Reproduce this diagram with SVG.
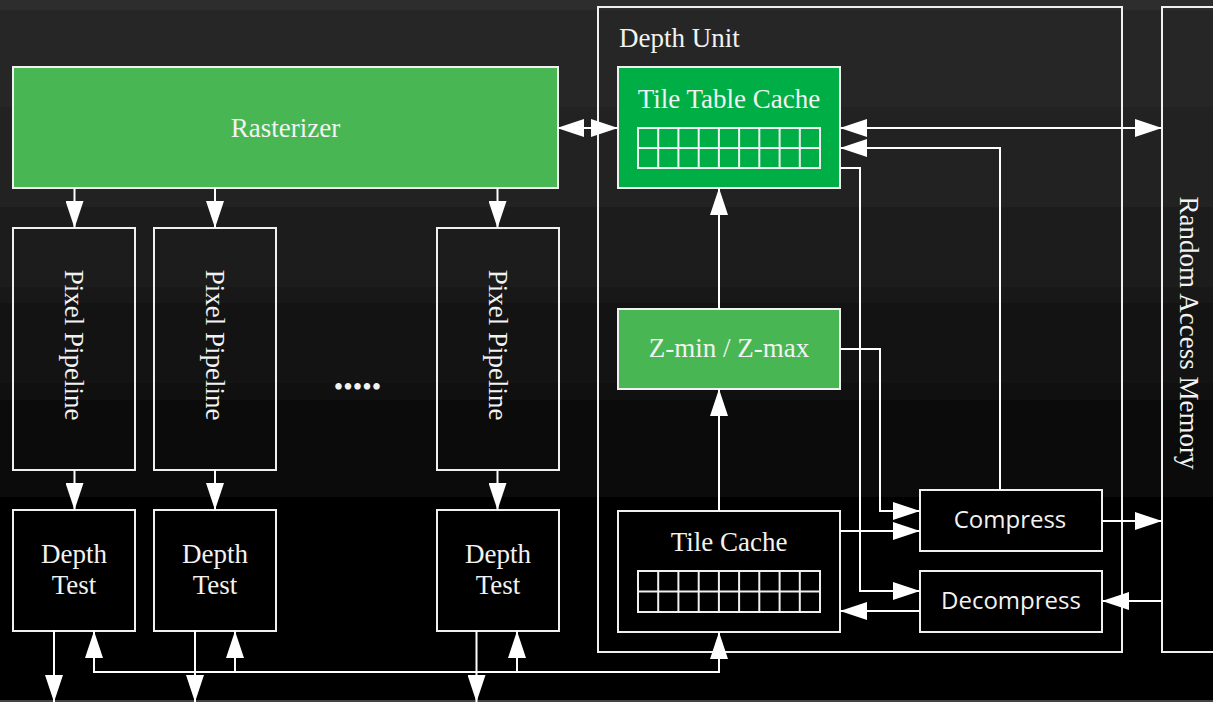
<svg xmlns="http://www.w3.org/2000/svg" width="1213" height="702" viewBox="0 0 1213 702">
<style>
.box{fill:#000;stroke:#f0f0f0;stroke-width:2}
.boxt{fill:none;stroke:#f0f0f0;stroke-width:2}
.green{fill:#48b753;stroke:#f0f0f0;stroke-width:2}
.green2{fill:#00ae46;stroke:#f0f0f0;stroke-width:2}
.grid{fill:none;stroke:#f0f0f0;stroke-width:2}
.t{font-family:"Liberation Serif","Times New Roman",serif;font-size:27px;fill:#f2f2f2;text-anchor:middle}
.s{font-family:"Open Sans","Noto Sans",sans-serif;font-size:24px;fill:#f2f2f2;text-anchor:middle}
.c{fill:none;stroke:#fff;stroke-width:2}
.a{marker-end:url(#ah)}
.b{marker-start:url(#ah);marker-end:url(#ah)}
</style>
<defs>
<marker id="ah" markerUnits="userSpaceOnUse" markerWidth="27" markerHeight="18" refX="27" refY="9" orient="auto-start-reverse" viewBox="0 0 27 18">
<path d="M0,0 L27,9 L0,18 z" fill="#fff"/>
</marker>
</defs>
<g id="background">
<rect x="0" y="0" width="1213" height="702" fill="#000"/>
<rect x="0" y="0" width="1213" height="10" fill="#2d2d2d"/>
<rect x="0" y="10" width="1213" height="97" fill="#262626"/>
<rect x="0" y="107" width="1213" height="100" fill="#222"/>
<rect x="0" y="207" width="1213" height="80" fill="#1c1c1c"/>
<rect x="0" y="287" width="1213" height="16" fill="#181818"/>
<rect x="0" y="303" width="1213" height="80" fill="#131313"/>
<rect x="0" y="383" width="1213" height="17" fill="#101010"/>
<rect x="0" y="400" width="1213" height="97" fill="#0b0b0b"/>
<rect x="0" y="700" width="1213" height="2" fill="#444"/>
</g>
<g id="depth-unit">
<rect class="boxt" x="598" y="7" width="524" height="645"/>
<text class="t" x="619" y="47" style="text-anchor:start">Depth Unit</text>
</g>
<g id="ram">
<rect class="boxt" x="1162" y="7" width="70" height="645"/>
<text class="t" transform="translate(1189,333) rotate(90)" y="9">Random Access Memory</text>
</g>
<g id="rasterizer">
<rect class="green" x="13" y="67" width="545" height="121"/>
<text class="t" x="285.5" y="136.5">Rasterizer</text>
</g>
<g id="pixel-pipeline-1">
<rect class="boxt" x="13" y="228" width="122" height="242"/>
<text class="t" transform="translate(74,345) rotate(90)" y="9">Pixel Pipeline</text>
</g>
<g id="pixel-pipeline-2">
<rect class="boxt" x="154" y="228" width="122" height="242"/>
<text class="t" transform="translate(215,345) rotate(90)" y="9">Pixel Pipeline</text>
</g>
<g id="pixel-pipeline-3">
<rect class="boxt" x="437" y="228" width="122" height="242"/>
<text class="t" transform="translate(498,345) rotate(90)" y="9">Pixel Pipeline</text>
</g>
<g id="ellipsis">
<text class="t" x="357.5" y="396">•••••</text>
</g>
<g id="depth-test-1">
<rect class="box" x="13" y="510" width="122" height="121"/>
<text class="t" x="74" y="563">Depth</text>
<text class="t" x="74" y="594">Test</text>
</g>
<g id="depth-test-2">
<rect class="box" x="154" y="510" width="122" height="121"/>
<text class="t" x="215" y="563">Depth</text>
<text class="t" x="215" y="594">Test</text>
</g>
<g id="depth-test-3">
<rect class="box" x="437" y="510" width="122" height="121"/>
<text class="t" x="498" y="563">Depth</text>
<text class="t" x="498" y="594">Test</text>
</g>
<g id="tile-table-cache">
<rect class="green2" x="618" y="67" width="222" height="121"/>
<text class="t" x="729" y="108">Tile Table Cache</text>
<rect class="grid" x="638" y="128" width="182" height="40"/>
<path class="grid" d="M638,148H820M658.2,128V168M678.4,128V168M698.7,128V168M718.9,128V168M739.1,128V168M759.3,128V168M779.6,128V168M799.8,128V168"/>
</g>
<g id="z-min-max">
<rect class="green" x="618" y="309" width="222" height="80"/>
<text class="t" x="729" y="357">Z-min / Z-max</text>
</g>
<g id="tile-cache">
<rect class="box" x="618" y="511" width="222" height="121"/>
<text class="t" x="729" y="551">Tile Cache</text>
<rect class="grid" x="638" y="571" width="182" height="41"/>
<path class="grid" d="M638,591.5H820M658.2,571V612M678.4,571V612M698.7,571V612M718.9,571V612M739.1,571V612M759.3,571V612M779.6,571V612M799.8,571V612"/>
</g>
<g id="compress">
<rect class="box" x="920" y="490" width="182" height="61"/>
<text class="s" x="1010" y="528">Compress</text>
</g>
<g id="decompress">
<rect class="box" x="920" y="571" width="182" height="61"/>
<text class="s" x="1011" y="609">Decompress</text>
</g>
<g id="connectors">
<path class="c a" d="M74.5,188V228"/>
<path class="c a" d="M215,188V228"/>
<path class="c a" d="M497.5,188V228"/>
<path class="c a" d="M74.5,470V510"/>
<path class="c a" d="M215,470V510"/>
<path class="c a" d="M497.5,470V510"/>
<path class="c a" d="M54,631V702"/>
<path class="c a" d="M195,631V702"/>
<path class="c a" d="M476.5,631V702"/>
<path class="c b" d="M94,631V672H719V632"/>
<path class="c a" d="M235,672V631"/>
<path class="c a" d="M517,672V631"/>
<path class="c b" d="M557,128H618"/>
<path class="c b" d="M840,128H1162"/>
<path class="c a" d="M1000,490V148H840"/>
<path class="c a" d="M840,168H860V591H920"/>
<path class="c a" d="M840,349H880V511H920"/>
<path class="c a" d="M840,531H920"/>
<path class="c a" d="M920,611H840"/>
<path class="c a" d="M1102,521H1162"/>
<path class="c a" d="M1162,601H1102"/>
<path class="c a" d="M719,511V389"/>
<path class="c a" d="M719,309V188"/>
</g>
</svg>
